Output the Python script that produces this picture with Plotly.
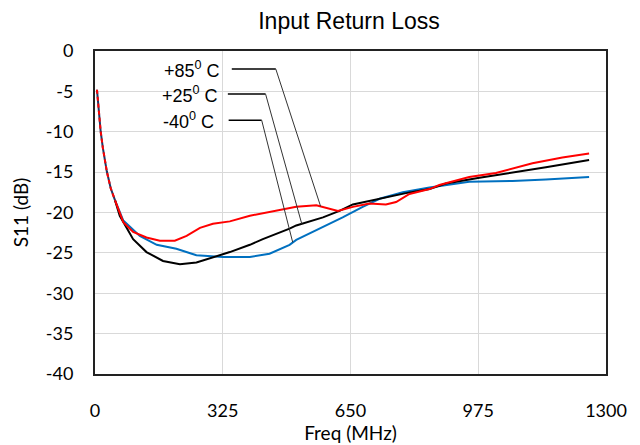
import plotly.graph_objects as go

# Shared low-frequency (dashed) segment
f_low = [5, 10, 14.5, 20, 30, 40, 51]
s11_low = [-4.8, -7.8, -10.0, -12.0, -14.9, -17.0, -18.5]

# +85 C (red)
f_85 = [51, 72, 97, 131, 165, 203, 233, 267, 300, 343, 394, 436, 512, 563, 597, 618,
        656, 698, 740, 766, 800, 851, 876, 952, 1020, 1113, 1189, 1257]
s11_85 = [-18.5, -21.2, -22.4, -23.1, -23.5, -23.5, -22.9, -21.9, -21.4, -21.1, -20.4, -20.0,
          -19.3, -19.1, -19.5, -19.8, -19.3, -18.9, -19.0, -18.7, -17.7, -17.1, -16.6, -15.6,
          -15.1, -13.9, -13.2, -12.7]

# +25 C (black)
f_25 = [51, 63, 97, 131, 173, 216, 258, 326, 343, 394, 427, 495, 512, 580, 622, 656,
        724, 791, 851, 893, 978, 1062, 1147, 1257]
s11_25 = [-18.5, -20.4, -23.3, -24.9, -26.0, -26.4, -26.2, -25.2, -24.9, -24.0, -23.3, -22.0,
          -21.6, -20.6, -19.8, -19.0, -18.3, -17.6, -17.1, -16.4, -15.7, -15.1, -14.4, -13.5]

# -40 C (blue)
f_m40 = [51, 72, 114, 157, 207, 258, 326, 368, 394, 444, 495, 512, 580, 630, 681, 724,
         783, 851, 952, 1062, 1147, 1257]
s11_m40 = [-18.5, -21.0, -22.9, -24.0, -24.5, -25.3, -25.5, -25.5, -25.5, -25.1, -24.0, -23.4,
           -21.8, -20.6, -19.3, -18.3, -17.5, -16.9, -16.2, -16.1, -15.9, -15.6]

x_ticks = [0, 325, 650, 975, 1300]
y_ticks = [0, -5, -10, -15, -20, -25, -30, -35, -40]

labels = ["+85<sup>0</sup> C", "+25<sup>0</sup> C", "-40<sup>0</sup> C"]
label_f = [322, 319, 309]
label_y = [-2.24, -5.34, -8.57]
leader_start = [348, 338, 340]
leader_knee = [460, 434, 424]
leader_end_f = [574, 526, 503]
leader_end_y = [-19.25, -21.4, -23.7]

ARIAL = "Liberation Sans, Arial, sans-serif"
CAL = "Lato, Carlito, Calibri, sans-serif"

# page body has an 8px margin; figure spans 8..640 x 8..445
W, H = 632, 437

fig = go.Figure()
fig.add_trace(go.Scatter(x=f_m40, y=s11_m40, mode="lines",
                         line=dict(color="#0070c0", width=2), name="-40 C"))
fig.add_trace(go.Scatter(x=f_25, y=s11_25, mode="lines",
                         line=dict(color="#000000", width=2), name="+25 C"))
fig.add_trace(go.Scatter(x=f_85, y=s11_85, mode="lines",
                         line=dict(color="#ff0000", width=2), name="+85 C"))
fig.add_trace(go.Scatter(x=f_low, y=s11_low, mode="lines",
                         line=dict(color="#203864", width=2), name="low"))
fig.add_trace(go.Scatter(x=f_low, y=s11_low, mode="lines",
                         line=dict(color="#ff0000", width=2, dash="4px,3px"), name="low85"))

for i in range(3):
    fig.add_shape(type="line", xref="x", yref="y",
                  x0=leader_start[i], x1=leader_knee[i], y0=label_y[i], y1=label_y[i],
                  line=dict(color="black", width=1.5))
    fig.add_shape(type="line", xref="x", yref="y",
                  x0=leader_knee[i], x1=leader_end_f[i], y0=label_y[i], y1=leader_end_y[i],
                  line=dict(color="#333333", width=1))
    fig.add_annotation(x=label_f[i], y=label_y[i], xref="x", yref="y", text=labels[i],
                       showarrow=False, xanchor="right", yanchor="middle",
                       font=dict(family=ARIAL, size=18, color="black"))

fig.update_layout(
    width=W, height=H,
    margin=dict(l=87, r=34, t=43, b=71),
    paper_bgcolor="white", plot_bgcolor="white",
    showlegend=False,
    title=dict(text="Input Return Loss", x=341 / W, xanchor="center", y=1 - 13 / H,
               yanchor="middle", font=dict(family=ARIAL, size=23, color="black")),
    font=dict(family=CAL, color="black"),
)
fig.update_xaxes(range=[0, 1300], tickvals=x_ticks, ticktext=[str(v) for v in x_ticks],
                 showgrid=True, gridcolor="#d9d9d9", gridwidth=1,
                 showline=True, linecolor="#222222", linewidth=2, mirror=True,
                 ticks="", ticklabelstandoff=19, zeroline=False, automargin=False,
                 tickfont=dict(family=CAL, size=18, color="black"),
                 title=dict(text="Freq (MHz)", standoff=6, font=dict(family=CAL, size=19, color="black")))
fig.update_yaxes(range=[-40, 0], tickvals=y_ticks, ticktext=[str(v) for v in y_ticks],
                 showgrid=True, gridcolor="#d9d9d9", gridwidth=1,
                 showline=True, linecolor="#222222", linewidth=2, mirror=True,
                 ticks="", ticklabelstandoff=16, zeroline=False, automargin=False,
                 tickfont=dict(family=CAL, size=18, color="black"),
                 title=dict(text="S11 (dB)", standoff=12, font=dict(family=CAL, size=19, color="black")))

fig.write_html("out.html")
